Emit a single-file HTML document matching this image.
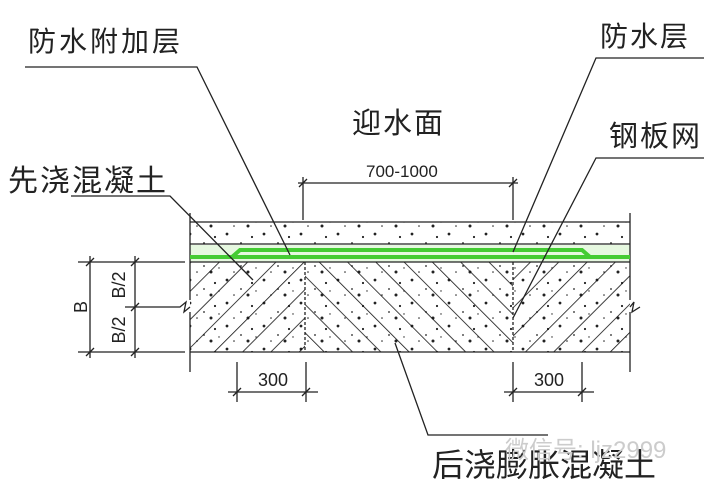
<!DOCTYPE html>
<html><head><meta charset="utf-8"><style>
html,body{margin:0;padding:0;background:#fff;}
svg{display:block;}
text{font-family:"Liberation Sans","Noto Sans CJK SC","WenQuanYi Zen Hei",sans-serif;fill:#222;}
</style></head><body>
<svg width="720" height="488" viewBox="0 0 720 488" xmlns="http://www.w3.org/2000/svg">
<defs>
<pattern id="hf" width="20" height="20" patternUnits="userSpaceOnUse" patternTransform="rotate(45)">
<line x1="0" y1="0" x2="0" y2="20" stroke="#111" stroke-width="1.6"/></pattern>
<pattern id="hb" width="20" height="20" patternUnits="userSpaceOnUse" patternTransform="rotate(-45)">
<line x1="0" y1="0" x2="0" y2="20" stroke="#111" stroke-width="1.6"/></pattern>
<pattern id="dots" width="37" height="23" patternUnits="userSpaceOnUse">
<circle cx="5" cy="4" r="1.4" fill="#222"/><circle cx="19" cy="13" r="0.9" fill="#222"/>
<circle cx="30" cy="7" r="1.1" fill="#222"/><circle cx="12" cy="19" r="0.8" fill="#222"/>
<circle cx="26" cy="19" r="1.5" fill="#222"/><circle cx="34" cy="15" r="0.7" fill="#222"/>
</pattern>
</defs>
<g stroke="#222" stroke-width="1.3" fill="none">
<rect x="190" y="222" width="440" height="22" fill="url(#dots)" stroke="none"/>
<rect x="190" y="262" width="440" height="90" fill="url(#dots)" stroke="none"/>
<rect x="190" y="262" width="115" height="90" fill="url(#hf)" stroke="none"/>
<rect x="305" y="262" width="208" height="90" fill="url(#hb)" stroke="none"/>
<rect x="513" y="262" width="117" height="90" fill="url(#hf)" stroke="none"/>
<rect x="190" y="245" width="440" height="17" fill="#e6f8e0" stroke="none"/>
<line x1="190" y1="222" x2="630" y2="222"/>
<line x1="190" y1="244" x2="630" y2="244"/>
<line x1="190" y1="262" x2="630" y2="262"/>
<line x1="190" y1="352" x2="630" y2="352"/>
<line x1="190" y1="213" x2="190" y2="300"/>
<line x1="190" y1="312" x2="190" y2="372"/>
<line x1="630" y1="213" x2="630" y2="300"/>
<line x1="630" y1="312" x2="630" y2="372"/>
<line x1="305" y1="262" x2="305" y2="352" stroke-dasharray="3 2"/>
<line x1="513" y1="262" x2="513" y2="352" stroke-dasharray="3 2"/>
<line x1="190" y1="257" x2="630" y2="257" stroke="#44cc33" stroke-width="4"/>
<polyline points="232,257 240,250 582,250 590,257" stroke="#44cc33" stroke-width="4"/>
<polyline points="125,307 180,307 186,302 184,312 190,307"/>
<polyline points="630,307 634,302 632,312 640,307"/>
<line x1="78" y1="262" x2="185" y2="262"/>
<line x1="78" y1="352" x2="185" y2="352"/>
<line x1="90" y1="256" x2="90" y2="358"/>
<line x1="135" y1="256" x2="135" y2="358"/>
<path d="M86,266l8,-8M86,356l8,-8M131,266l8,-8M131,311l8,-8M131,356l8,-8"/>
<line x1="303" y1="177" x2="303" y2="220"/>
<line x1="513" y1="177" x2="513" y2="220"/>
<line x1="298" y1="183" x2="518" y2="183"/>
<path d="M299,187l8,-8M509,187l8,-8"/>
<line x1="237" y1="362" x2="237" y2="402"/>
<line x1="306" y1="362" x2="306" y2="402"/>
<line x1="228" y1="392" x2="318" y2="392"/>
<line x1="513" y1="362" x2="513" y2="402"/>
<line x1="582" y1="362" x2="582" y2="402"/>
<line x1="504" y1="392" x2="594" y2="392"/>
<path d="M233,396l8,-8M302,396l8,-8M509,396l8,-8M578,396l8,-8"/>
<polyline points="25,67 197,67 290,255"/>
<polyline points="704,58 596,58 513,252"/>
<polyline points="704,158 596,158 513,318"/>
<polyline points="71,196 170,196 253,280"/>
<polyline points="395,343 428,435 548,435"/>
</g>
<text x="28" y="51" font-size="28" letter-spacing="3">防水附加层</text>
<text x="600" y="46" font-size="28" letter-spacing="2">防水层</text>
<text x="352" y="133" font-size="29" letter-spacing="2">迎水面</text>
<text x="609" y="146" font-size="29" letter-spacing="2">钢板网</text>
<text x="8" y="191" font-size="30" letter-spacing="2">先浇混凝土</text>
<text x="366" y="177" font-size="17">700-1000</text>
<text x="258" y="386" font-size="18">300</text>
<text x="534" y="386" font-size="18">300</text>
<text x="0" y="0" font-size="18" transform="translate(87,307) rotate(-90)" text-anchor="middle">B</text>
<text x="0" y="0" font-size="18" transform="translate(125,285) rotate(-90)" text-anchor="middle">B/2</text>
<text x="0" y="0" font-size="18" transform="translate(125,330) rotate(-90)" text-anchor="middle">B/2</text>
<text x="432" y="476" font-size="32">后浇膨胀混凝土</text>
<text x="505" y="458" font-size="24" style="fill:#ccc">微信号: ljz2999</text>
</svg>
</body></html>
